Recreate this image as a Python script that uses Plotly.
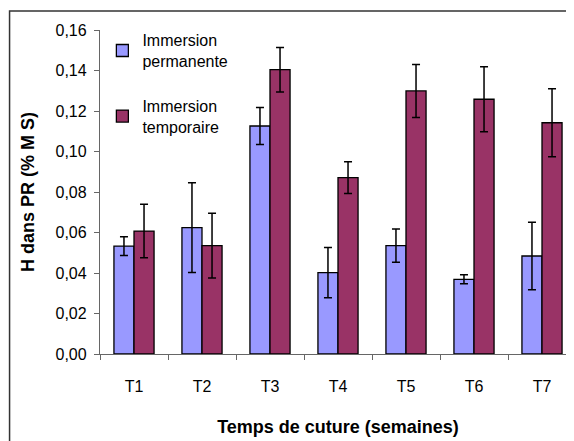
import plotly.graph_objects as go

categories = ["T1", "T2", "T3", "T4", "T5", "T6", "T7"]
perm_values = [0.0533, 0.0624, 0.1126, 0.0402, 0.0535, 0.0369, 0.0484]
perm_errors = [0.0046, 0.0222, 0.0091, 0.0124, 0.0082, 0.0022, 0.0167]
temp_values = [0.0607, 0.0535, 0.1404, 0.0871, 0.1299, 0.1258, 0.1142]
temp_errors = [0.0132, 0.0160, 0.0110, 0.0078, 0.0131, 0.0160, 0.0168]
y_ticks = [0.00, 0.02, 0.04, 0.06, 0.08, 0.10, 0.12, 0.14, 0.16]
y_tick_labels = ["0,00", "0,02", "0,04", "0,06", "0,08", "0,10", "0,12", "0,14", "0,16"]

FONT = "Liberation Sans, Arial, sans-serif"

fig = go.Figure()
fig.add_trace(go.Bar(
    x=categories, y=perm_values, name="Immersion<br>permanente",
    marker=dict(color="#9999FF", line=dict(color="#000000", width=1.3)),
    error_y=dict(type="data", array=perm_errors, color="#000000", thickness=1.5, width=4),
    legendgroup="a",
))
fig.add_trace(go.Bar(
    x=categories, y=temp_values, name="Immersion<br>temporaire",
    marker=dict(color="#993366", line=dict(color="#000000", width=1.3)),
    error_y=dict(type="data", array=temp_errors, color="#000000", thickness=1.5, width=4),
    legendgroup="b",
))

# note: page body adds an 8px offset, margins compensate
fig.update_layout(
    width=574, height=441,
    margin=dict(l=92, r=6, t=22, b=95, autoexpand=False),
    paper_bgcolor="white", plot_bgcolor="white",
    barmode="group", bargap=0.41, bargroupgap=0,
    font=dict(family=FONT, size=16, color="#000000"),
    showlegend=True,
    legend=dict(x=0.005, y=1.021, xanchor="left", yanchor="top",
                bgcolor="rgba(0,0,0,0)", font=dict(size=16),
                traceorder="grouped", tracegroupgap=21, itemwidth=30),
    xaxis=dict(
        showline=True, linecolor="#666666", linewidth=1.3,
        ticks="outside", tickson="boundaries", ticklen=5, tickcolor="#666666",
        ticklabelstandoff=18,
        title=dict(text="<b>Temps de cuture (semaines)</b>", font=dict(size=18), standoff=26),
    ),
    yaxis=dict(
        range=[0, 0.16], tickvals=y_ticks, ticktext=y_tick_labels,
        showline=True, linecolor="#666666", linewidth=1.3,
        ticks="outside", ticklen=5, tickcolor="#666666", showgrid=False, zeroline=False,
        ticklabelstandoff=4,
        title=dict(text="<b>H dans PR (% M S)</b>", font=dict(size=18), standoff=16),
    ),
    shapes=[dict(type="rect", xref="paper", yref="paper",
                 x0=-0.19, x1=1.2, y0=-0.6, y1=1.0586,
                 line=dict(color="#333333", width=1.5), fillcolor="rgba(0,0,0,0)", layer="below")],
)

fig.write_html("out.html")
